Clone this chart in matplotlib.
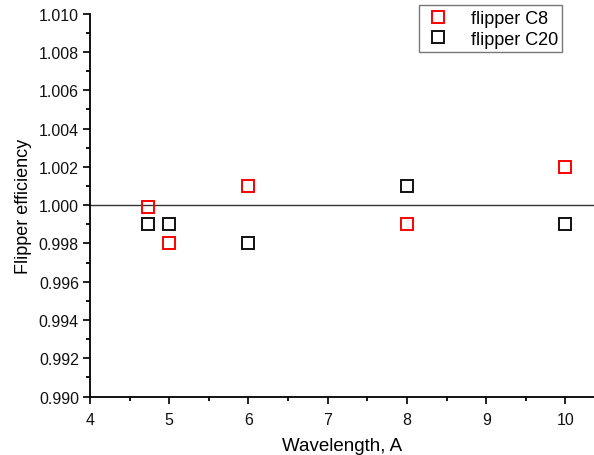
import matplotlib
matplotlib.use("Agg")
import matplotlib.pyplot as plt
from matplotlib.ticker import MultipleLocator

plt.rcParams["font.family"] = ["Liberation Sans", "DejaVu Sans"]

# Wavelength (A) and flipper efficiency for each flipper
wavelength = [4.73, 5.0, 6.0, 8.0, 10.0]
eff_c8 = [0.9999, 0.998, 1.001, 0.999, 1.002]
eff_c20 = [0.999, 0.999, 0.998, 1.001, 0.999]

fig = plt.figure(figsize=(5.94, 4.56), dpi=100)
ax = fig.add_axes([0.1515, 0.128, 0.8485, 0.84])

# Reference line at 1.000
ax.axhline(1.0, color="#333333", lw=1.0, zorder=1)

ax.plot(wavelength, eff_c8, ls="none", marker="s", ms=9, mfc="none",
        mec="#ff0000", mew=1.4, label="flipper C8")
ax.plot(wavelength, eff_c20, ls="none", marker="s", ms=9, mfc="none",
        mec="#111111", mew=1.4, label="flipper C20")

ax.set_xlim(4, 10.36)
ax.set_ylim(0.990, 1.010)
ax.xaxis.set_major_locator(MultipleLocator(1))
ax.xaxis.set_minor_locator(MultipleLocator(0.5))
ax.yaxis.set_major_locator(MultipleLocator(0.002))
ax.yaxis.set_minor_locator(MultipleLocator(0.001))
ax.yaxis.set_major_formatter(plt.FormatStrFormatter("%.3f"))

for side in ["top", "right"]:
    ax.spines[side].set_visible(False)
for side in ["left", "bottom"]:
    ax.spines[side].set_linewidth(1.3)

ax.tick_params(which="major", direction="out", length=5, width=1.3,
               labelsize=11.5, colors="#111111")
ax.tick_params(axis="y", which="major", pad=3)
ax.tick_params(axis="x", which="major", pad=6)
ax.tick_params(which="minor", direction="out", length=3, width=1.3)

ax.set_xlabel("Wavelength, A", fontsize=13.5, labelpad=7)
ax.set_ylabel("Flipper efficiency", fontsize=13, labelpad=5)

leg = ax.legend(loc="upper right", bbox_to_anchor=(0.955, 1.045),
                fontsize=13, frameon=True, fancybox=False,
                edgecolor="#555555", handletextpad=1.0, borderpad=0.25,
                labelspacing=0.2, handlelength=1.6)
leg.get_frame().set_linewidth(1.0)

plt.savefig("out.png", dpi=100)
plt.close()
